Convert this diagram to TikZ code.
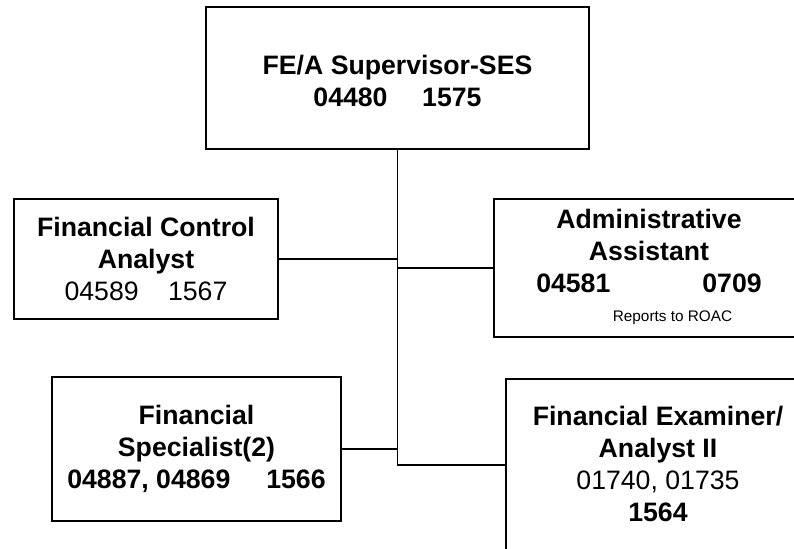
\documentclass[tikz,border=0pt]{standalone}
\usepackage{fontspec}
\setmainfont{Liberation Sans}
\begin{document}
\begin{tikzpicture}[x=0.75pt,y=-0.75pt,
  box/.style={draw, rectangle, line width=1.5pt, inner sep=0pt},
  link/.style={line width=1.4pt},
  title/.style={align=center, inner sep=0pt, font=\fontsize{20pt}{24pt}\selectfont\bfseries},
  plain/.style={align=center, inner sep=0pt, font=\fontsize{20pt}{24pt}\selectfont},
  note/.style={inner sep=0pt, font=\fontsize{11.5pt}{14pt}\selectfont}]
\useasboundingbox (0,0) rectangle (794,549);
\clip (0,0) rectangle (794,549);

% position boxes
\node[box, minimum width=287.25pt, minimum height=106.5pt] (top) at (397.5,78) {};
\node[box, minimum width=198pt, minimum height=90pt] (fca) at (146,259) {};
\node[box, minimum width=232.5pt, minimum height=103.5pt] (admin) at (649,268) {};
\node[box, minimum width=216.75pt, minimum height=108pt] (fs) at (196.5,449) {};
\node[box, minimum width=228pt, minimum height=143.25pt] (exam) at (658,474.5) {};

% box texts
\node[title] (top-t) at (397.5,81) {FE/A Supervisor-SES\\04480\hspace{26pt}1575};
\node[plain] (fca-t) at (146,258.5) {\textbf{Financial Control}\\\textbf{Analyst}\\04589\hspace{22pt}1567};
\node[title] (admin-t) at (649,251) {Administrative\\Assistant\\04581\hspace{69pt}0709};
\node[note] (admin-n) at (672.5,318) {Reports to ROAC};
\node[title] (fs-t) at (196.5,448.5) {Financial\\Specialist(2)\\04887, 04869\hspace{27pt}1566};
\node[plain] (exam-t) at (658,463.5) {\textbf{Financial Examiner/}\\\textbf{Analyst II}\\01740, 01735\\\textbf{1564}};

% reporting lines
\coordinate (j) at (397.5,465);
\draw[link] (top.south) -- (j) -- (j -| exam.west);
\draw[link] (fca.east) -- (fca.east -| top.south);
\draw[link] (admin.west) -- (admin.west -| top.south);
\draw[link] (fs.east) -- (fs.east -| top.south);
\end{tikzpicture}
\end{document}
